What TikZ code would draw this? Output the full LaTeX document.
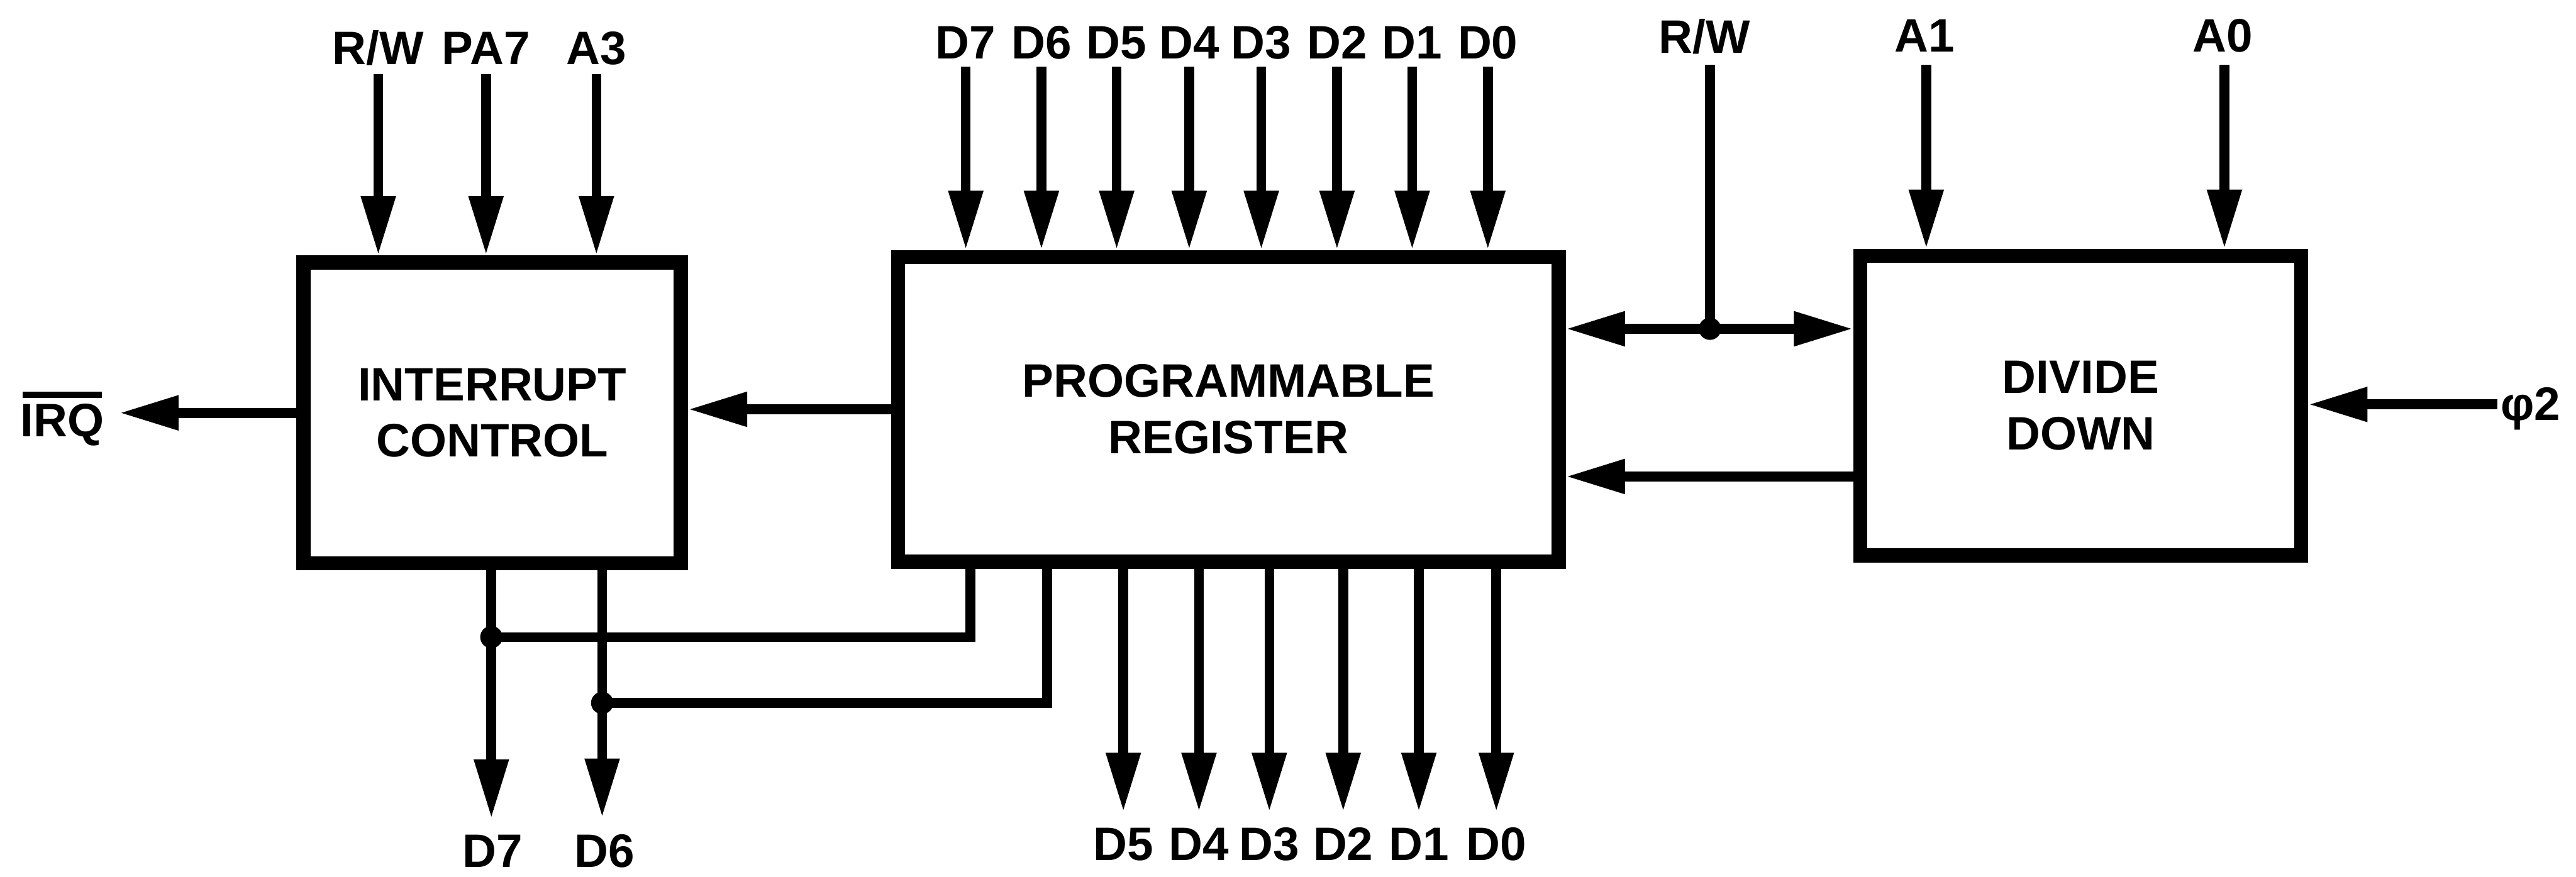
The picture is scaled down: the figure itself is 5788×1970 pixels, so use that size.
\documentclass[tikz,border=0pt]{standalone}
\usepackage{fontspec}
\setmainfont{Liberation Sans}
\usetikzlibrary{arrows.meta}
\begin{document}
\begin{tikzpicture}[x=0.01cm, y=-0.01cm,
  box/.style={draw, line width=0.32cm, font=\bfseries\fontsize{30}{36}\selectfont, align=center, inner sep=0},
  lbl/.style={font=\bfseries\fontsize{30}{36}\selectfont, inner sep=0, anchor=base},
  wire/.style={line width=0.22cm},
  arr/.style={wire, -{Triangle[length=1.33cm,width=0.73cm]}},
  darr/.style={wire, {Triangle[length=1.33cm,width=0.73cm]}-{Triangle[length=1.33cm,width=0.73cm]}},
  jdot/.style={circle, fill, inner sep=0, minimum size=0.5cm}]
\useasboundingbox (0,0) rectangle (5788,1970);

% blocks
\node[box, minimum width=8.47cm, minimum height=6.76cm] (ic) at (1106,928) {INTERRUPT\\CONTROL};
\node[box, minimum width=14.83cm, minimum height=6.84cm] (pr) at (2760,920) {PROGRAMMABLE\\REGISTER};
\node[box, minimum width=9.9cm, minimum height=6.73cm] (dd) at (4675,912) {DIVIDE\\DOWN};

% inputs to interrupt control
\foreach \x/\t [count=\i] in {850/{R/W},1092/PA7,1340/A3}{
  \node[lbl] (tl\i) at (\x,145) {\t};
  \coordinate (stl\i) at (\x,167);
  \draw[arr] (stl\i) -- (stl\i |- ic.north);
}

% data inputs to programmable register
\foreach \x/\t [count=\i] in {2170/D7,2340/D6,2509/D5,2672/D4,2834/D3,3004/D2,3173/D1,3343/D0}{
  \node[lbl] (td\i) at (\x,132) {\t};
  \coordinate (std\i) at (\x,150);
  \draw[arr] (std\i) -- (std\i |- pr.north);
}

% data outputs of programmable register
\foreach \x/\t [count=\i] in {2524/D5,2694/D4,2852/D3,3018/D2,3188/D1,3362/D0}{
  \node[lbl] (bd\i) at (\x,1934) {\t};
  \coordinate (ebd\i) at (\x,1825);
  \draw[arr] (ebd\i |- pr.south) -- (ebd\i);
}

% interrupt control outputs D7, D6
\node[lbl] (bo7) at (1107,1950) {D7};
\node[lbl] (bo6) at (1358,1950) {D6};
\coordinate (e7) at (1104,1840);
\coordinate (e6) at (1353,1838);
\draw[arr] (e7 |- ic.south) -- (e7);
\draw[arr] (e6 |- ic.south) -- (e6);
\node[jdot] (j1) at (1104,1432) {};
\node[jdot] (j2) at (1353,1580) {};
\coordinate (c1) at (2180,1432);
\coordinate (c2) at (2353,1580);
\draw[wire] (j1.center) -- (c1) -- (c1 |- pr.south);
\draw[wire] (j2.center) -- (c2) -- (c2 |- pr.south);

% register -> interrupt control
\draw[arr] (pr.west) -- (pr.west -| ic.east);

% IRQ output
\node[lbl] (irq) at (140,982) {IRQ};
\draw[line width=0.15cm] ([xshift=0.05cm,yshift=0.2cm]irq.north west) -- ([xshift=-0.05cm,yshift=0.2cm]irq.north east);
\coordinate (irqtip) at (268,928);
\draw[arr] (ic.west) -- (irqtip);

% R/W with bidirectional link
\node[lbl] (trw) at (3830,120) {R/W};
\coordinate (srw) at (3842,146);
\node[jdot] (j3) at (3842,739) {};
\draw[wire] (srw) -- (j3.center);
\draw[darr] (pr.east |- j3) -- (dd.west |- j3);

% divide down -> register
\coordinate (lk) at (4180,1071);
\draw[arr] (lk -| dd.west) -- (lk -| pr.east);

% A1, A0
\node[lbl] (ta1) at (4324,116) {A1};
\node[lbl] (ta0) at (4994,116) {A0};
\coordinate (sa1) at (4328,146);
\coordinate (sa0) at (4998,146);
\draw[arr] (sa1) -- (sa1 |- dd.north);
\draw[arr] (sa0) -- (sa0 |- dd.north);

% phi2 clock
\node[lbl] (phi) at (5686,944) {φ2};
\coordinate (sphi) at (5611,909);
\draw[arr] (sphi) -- (sphi -| dd.east);
\end{tikzpicture}
\end{document}
